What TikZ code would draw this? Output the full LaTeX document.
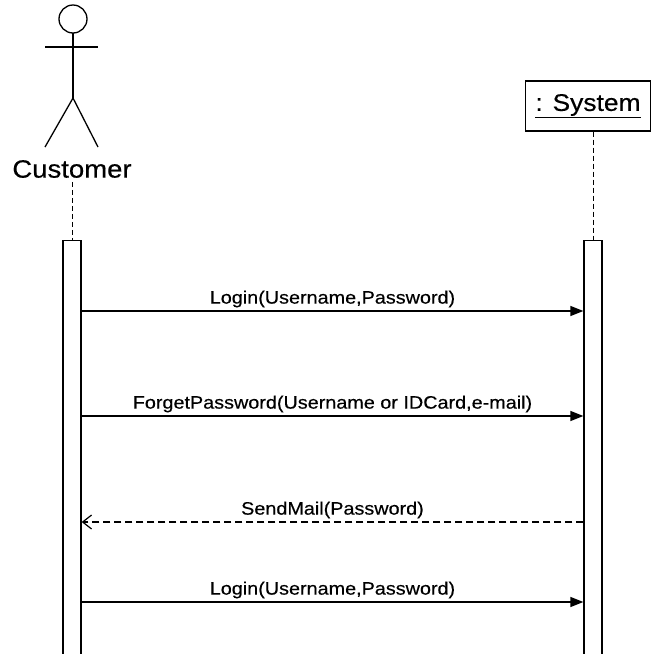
\documentclass[tikz,border=0pt]{standalone}
\usepackage{fontspec}
\setmainfont{Liberation Sans}[FakeStretch=1.1,FakeBold=0.4]
\usetikzlibrary{arrows.meta}
\begin{document}
\begin{tikzpicture}[x=1pt,y=-1pt,line width=1.3pt,
	bar/.style = {draw, fill=white, minimum width=18pt, minimum height=420pt, inner sep=0pt, anchor=north},
	obj/.style = {draw, minimum width=125pt, minimum height=50pt, inner sep=0pt, font=\fontsize{24}{28}\selectfont},
	life/.style = {dash pattern=on 5pt off 3pt, line width=0.9pt},
	call/.style = {-{Triangle[length=13pt,width=10pt]}},
	reply/.style = {dash pattern=on 7pt off 4pt, -{Straight Barb[length=9pt,width=14pt,line width=1.2pt]}},
	lbl/.style = {midway, above, inner sep=3pt, font=\fontsize{18}{21}\selectfont}]
	\clip (0,0) rectangle (653,654);
	% actor
	\draw (73,19) circle (14pt);
	\draw (73,33) -- (73,98);
	\draw (45,47) -- (98,47);
	\draw (45,147) -- (73,98) -- (98,147);
	\node (cust) at (72,169) {\fontsize{25}{30}\selectfont Customer};
	\node[obj] (sys) at (588,106) {\underline{: System}};
	% activation bars
	\node[bar] (cb) at (72,240) {};
	\node[bar] (sb) at (593,240) {};
	\draw[life] (cust.south -| cb.north) -- (cb.north);
	\draw[life] (sys.south -| sb.north) -- (sb.north);
	% messages
	\draw[call] (cb.east |- 0,311) -- (sb.west |- 0,311) node[lbl] {Login(Username,Password)};
	\draw[call] (cb.east |- 0,416) -- (sb.west |- 0,416) node[lbl] {ForgetPassword(Username or IDCard,e-mail)};
	\draw[reply] (sb.west |- 0,522) -- (cb.east |- 0,522) node[lbl] {SendMail(Password)};
	\draw[call] (cb.east |- 0,602) -- (sb.west |- 0,602) node[lbl] {Login(Username,Password)};
\end{tikzpicture}
\end{document}
